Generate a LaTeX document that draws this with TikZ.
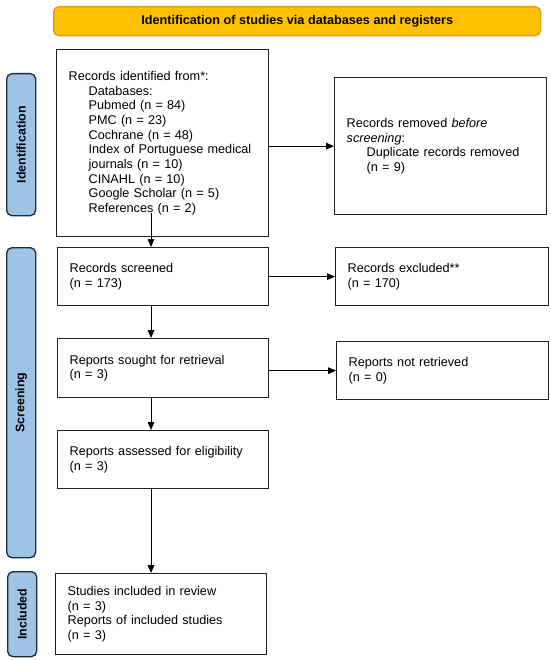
\documentclass[tikz,border=0pt]{standalone}
\usepackage{fontspec}
\setmainfont{Liberation Sans}
\usetikzlibrary{arrows.meta,calc}
\definecolor{bannerfill}{HTML}{FFC000}
\definecolor{bannerdraw}{HTML}{D9A100}
\definecolor{sidefill}{HTML}{9DC3E6}
\definecolor{sidedraw}{HTML}{1E2A36}
\definecolor{boxdraw}{HTML}{222222}
\begin{document}
\begin{tikzpicture}[x=0.75pt,y=-0.75pt,
  font=\fontsize{9.5}{11}\selectfont,
  flowbox/.style={draw=boxdraw,line width=1pt,anchor=north west,align=left,
    inner xsep=9pt,inner ysep=0pt,minimum height=#1},
  sidebox/.style={draw=sidedraw,fill=sidefill,line width=1pt,rounded corners=4pt,
    anchor=north west,minimum width=21.75pt,minimum height=#1,inner sep=0pt},
  sidelabel/.style={rotate=90,font=\fontsize{9.3}{11}\selectfont\bfseries},
  flowarrow/.style={line width=0.6pt,-{Triangle[length=6pt,width=5pt]}}]
\useasboundingbox (0,0) rectangle (550,660);
\fill[white] (0,0) rectangle (550,660);
% banner
\node[draw=bannerdraw,fill=bannerfill,line width=1pt,rounded corners=4pt,anchor=north west,
  minimum width=365.25pt,minimum height=21.75pt,inner sep=0pt,
  font=\fontsize{9.5}{11}\selectfont\bfseries] (banner) at (53,6)
  {Identification of studies via databases and registers};
% side labels
\node[sidebox=106.5pt] (sid) at (6,73) {};
\node[sidelabel] at (sid.center) {Identification};
\node[sidebox=232.5pt] (ssc) at (6,247) {};
\node[sidelabel] at (ssc.center) {Screening};
\node[sidebox=63.75pt] (sin) at (7,571) {};
\node[sidelabel] at (sin.center) {Included};
% boxes
\node[flowbox=140.25pt,text width=141pt] (ident) at (56,49)
  {Records identified from*:\\
   \hspace*{15pt}Databases:\\
   \hspace*{15pt}Pubmed (n = 84)\\
   \hspace*{15pt}PMC (n = 23)\\
   \hspace*{15pt}Cochrane (n = 48)\\
   \hspace*{15pt}Index of Portuguese medical\\
   \hspace*{15pt}journals (n = 10)\\
   \hspace*{15pt}CINAHL (n = 10)\\
   \hspace*{15pt}Google Scholar (n = 5)\\
   \hspace*{15pt}References (n = 2)};
\node[flowbox=102.75pt,text width=141pt] (rem) at (334,77)
  {Records removed \textit{before}\\
   \textit{screening}:\\
   \hspace*{15pt}Duplicate records removed\\
   \hspace*{15pt}(n = 9)};
\node[flowbox=43.5pt,text width=140.25pt] (scr) at (57,247)
  {Records screened\\(n = 173)};
\node[flowbox=43.5pt,text width=141.75pt] (exc) at (335,247)
  {Records excluded**\\(n = 170)};
\node[flowbox=44.25pt,text width=140.25pt] (sgt) at (57,338)
  {Reports sought for retrieval\\(n = 3)};
\node[flowbox=43.5pt,text width=141pt] (nrt) at (336,341)
  {Reports not retrieved\\(n = 0)};
\node[flowbox=43.5pt,text width=140.25pt] (ass) at (57,430)
  {Reports assessed for eligibility\\(n = 3)};
\node[flowbox=60.75pt,text width=140.25pt] (inc) at (55,573)
  {Studies included in review\\(n = 3)\\Reports of included studies\\(n = 3)};
% connectors
\coordinate (vx) at (151,0);
\coordinate (start) at (151,213);
\draw[flowarrow] (start) -- (scr.north -| vx);
\draw[flowarrow] (scr.south -| vx) -- (sgt.north -| vx);
\draw[flowarrow] (sgt.south -| vx) -- (ass.north -| vx);
\draw[flowarrow] (ass.south -| vx) -- (inc.north -| vx);
\draw[flowarrow] (rem.west -| ident.east) -- (rem.west);
\draw[flowarrow] (exc.west -| scr.east) -- (exc.west);
\draw[flowarrow] (nrt.west -| sgt.east) -- (nrt.west);
\end{tikzpicture}
\end{document}
